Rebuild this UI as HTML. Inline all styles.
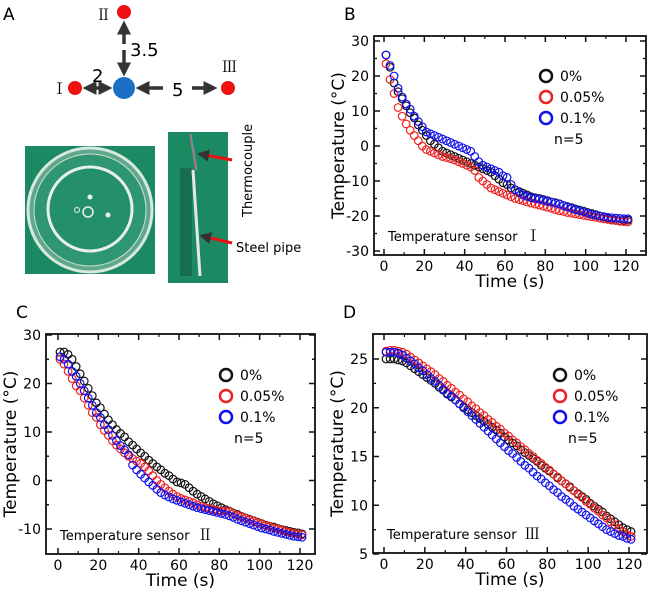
<!DOCTYPE html>
<html><head><meta charset="utf-8"><style>
html,body{margin:0;padding:0;background:#fff;}
svg{display:block;font-family:"DejaVu Sans","Liberation Sans",sans-serif;}
.rn{font-family:"Noto Serif CJK SC","Noto Sans CJK JP","WenQuanYi Zen Hei",serif;}
</style></head><body>
<svg id="fig" width="650" height="592" viewBox="0 0 650 592" xmlns="http://www.w3.org/2000/svg">
<defs>
<marker id="ah" markerWidth="4" markerHeight="4" refX="3" refY="2" orient="auto-start-reverse"><path d="M0,0 L4,2 L0,4 z" fill="#333"/></marker>
</defs>
<g>
<text x="3" y="20" font-size="17">A</text>
<line x1="124" y1="24" x2="124" y2="44" stroke="#333" stroke-width="3.5" marker-start="url(#ah)"/>
<line x1="124" y1="50" x2="124" y2="73" stroke="#333" stroke-width="3.5" marker-end="url(#ah)"/>
<line x1="86" y1="88" x2="109" y2="88" stroke="#333" stroke-width="3.5" marker-start="url(#ah)" marker-end="url(#ah)"/>
<line x1="139" y1="88" x2="163" y2="88" stroke="#333" stroke-width="3.5" marker-start="url(#ah)"/>
<line x1="192" y1="88" x2="214" y2="88" stroke="#333" stroke-width="3.5" marker-end="url(#ah)"/>
<circle cx="124" cy="12" r="7" fill="#ee1111"/>
<circle cx="75" cy="88" r="7" fill="#ee1111"/>
<circle cx="228" cy="88" r="7" fill="#ee1111"/>
<circle cx="124" cy="88" r="11" fill="#1a6fc4"/>
<text class="rn" x="96" y="20" font-size="15">Ⅱ</text>
<text class="rn" x="52" y="94" font-size="15">Ⅰ</text>
<text class="rn" x="222" y="72" font-size="15">Ⅲ</text>
<text x="130" y="56" font-size="18">3.5</text>
<text x="92" y="82" font-size="18">2</text>
<text x="172" y="96" font-size="18">5</text>
<g>
<rect x="25" y="146" width="130" height="128" fill="#1b8a62"/>
<circle cx="90" cy="210" r="62" fill="#5fa88c" stroke="#d8e8e0" stroke-width="3"/>
<circle cx="90" cy="210" r="56" fill="#2f9672" stroke="#cfe0d8" stroke-width="1"/>
<circle cx="90" cy="209" r="42" fill="#23906a" stroke="#e8f0ec" stroke-width="3"/>
<circle cx="88" cy="212" r="5" fill="none" stroke="#e8f0ec" stroke-width="1.5"/>
<circle cx="77" cy="210" r="2.5" fill="none" stroke="#e8f0ec" stroke-width="1"/>
<circle cx="90" cy="197" r="2.5" fill="#e8f0ec"/>
<circle cx="108" cy="215" r="2.5" fill="#e8f0ec"/>
</g>
<g>
<rect x="168" y="132" width="60" height="151" fill="#1b8a62"/>
<rect x="180" y="168" width="12" height="108" fill="#176e4e"/>
<line x1="190" y1="134" x2="196" y2="170" stroke="#c66" stroke-width="1.5"/>
<line x1="191" y1="134" x2="197" y2="170" stroke="#69c" stroke-width="1"/>
<line x1="193" y1="170" x2="200" y2="276" stroke="#e6e6e6" stroke-width="3"/>
<line x1="232" y1="160" x2="200" y2="154" stroke="#ee1111" stroke-width="3" marker-end="url(#ah)"/>
<line x1="232" y1="243" x2="202" y2="236" stroke="#ee1111" stroke-width="3" marker-end="url(#ah)"/>
</g>
<text transform="translate(252,217) rotate(-90)" font-size="13">Thermocouple</text>
<text x="236" y="252" font-size="13">Steel pipe</text>
</g>
<g id="charts"></g>
</svg>
<script>
const times = [];
for (let t = 1; t <= 121; t += 2) times.push(t);
const seriesNames = ["0%", "0.05%", "0.1%"];
const seriesColors = ["#111", "#ee2222", "#1010ee"];

const bBlack = [26,22.5,18,15.5,13.5,11.5,9.5,8,6,4.5,3,1.5,0.5,-0.5,-1.5,-2,-2.5,-3,-3.5,-4,-4.5,-5,-5.5,-6,-6.5,-7,-7.5,-8.5,-9.5,-10.5,-11,-12,-12.5,-13,-13.5,-14,-14.5,-14.8,-15,-15.3,-15.6,-16,-16.2,-16.5,-17,-17.3,-17.6,-18,-18.3,-18.6,-19,-19.3,-19.6,-20,-20.3,-20.6,-21,-21.2,-21.4,-21.3,-21.2];
const bRed = [23.5,19,15,11,8.5,6.3,4.5,3,1.5,0,-1,-1.5,-2,-2.5,-3,-3.3,-3.6,-4,-4.5,-5,-5.5,-6,-7,-9,-10,-11,-12,-12.5,-13,-13.5,-14,-14.5,-15,-15.3,-15.6,-16,-16.3,-16.6,-16.9,-17.2,-17.5,-17.8,-18.2,-18.5,-18.7,-19,-19.2,-19.4,-19.6,-19.8,-20,-20.2,-20.4,-20.6,-20.8,-21,-21.2,-21.3,-21.5,-21.6,-21.7];
const bBlue = [26,23,20,16.5,14,12,10.5,8.5,7,5.5,4,3.5,3,2.5,2,1.5,1,0.5,0,-0.5,-1,-1.5,-3,-4.5,-5.5,-6,-6.5,-7,-7.5,-8.5,-9,-11,-12.5,-13.3,-14,-14.4,-14.8,-15,-15.2,-15.5,-15.8,-16,-16.3,-16.6,-17,-17.4,-17.8,-18.2,-18.5,-18.8,-19.2,-19.5,-19.8,-20,-20.2,-20.4,-20.5,-20.6,-20.7,-20.8,-20.8];

const cBlack = [26.5,26.5,26,25,23.5,22,20.5,19,17.5,16,15,13.7,12.5,11.5,10.5,9.7,9,8,7.3,6.5,5.7,5,4.2,3.5,2.8,2.2,1.5,1,0.3,-0.3,-0.5,-0.8,-1.5,-2.2,-2.8,-3.3,-3.8,-4.3,-4.8,-5.2,-5.6,-6,-6.3,-6.7,-7,-7.4,-7.7,-8,-8.3,-8.6,-8.9,-9.2,-9.4,-9.6,-9.9,-10.1,-10.3,-10.5,-10.7,-10.8,-11];
const cRed = [25,24,22.5,21,19.5,18.5,17,15.5,14,13,11.5,10.3,9.3,8.2,7.3,6.5,5.7,5,4.5,4,3.5,2.8,2,1,0,-0.8,-1.5,-2.2,-2.8,-3.3,-3.7,-4,-4.3,-4.6,-5,-5.3,-5.6,-5.8,-6,-6.2,-6.3,-6.3,-6.4,-6.8,-7.2,-7.5,-7.8,-8.1,-8.4,-8.7,-9,-9.3,-9.5,-9.8,-10,-10.2,-10.5,-10.7,-10.9,-11,-11.2];
const cBlue = [25.5,25,24,22.5,21.5,20,18.5,17,15.5,14,13,11.5,10.5,9.3,8.2,7.2,6.3,5.3,3.2,2.2,1.3,0.5,-0.3,-1,-1.8,-2.5,-3,-3.4,-3.8,-4.1,-4.4,-4.7,-5,-5.3,-5.6,-5.8,-6,-6.2,-6.4,-6.6,-6.8,-7,-7.3,-7.6,-8,-8.3,-8.6,-8.9,-9.2,-9.5,-9.8,-10,-10.2,-10.5,-10.7,-10.9,-11.1,-11.3,-11.5,-11.6,-11.7];

const dBlack = [25,25,25,24.9,24.8,24.6,24.3,24,23.7,23.4,23.1,22.8,22.5,22.1,21.8,21.4,21.1,20.8,20.4,20.1,19.8,19.5,19.2,18.9,18.6,18.3,18,17.7,17.4,17,16.7,16.4,16.1,15.7,15.4,15.1,14.8,14.5,14.1,13.8,13.5,13.2,12.8,12.5,12.2,11.9,11.5,11.2,10.9,10.6,10.2,9.9,9.6,9.3,8.9,8.6,8.3,8,7.7,7.5,7.3];
const dRed = [25.8,25.9,25.9,25.8,25.7,25.5,25.2,24.9,24.6,24.3,24,23.7,23.4,23,22.7,22.3,22,21.6,21.3,20.9,20.6,20.2,19.9,19.5,19.2,18.8,18.5,18.1,17.8,17.4,17.1,16.7,16.4,16,15.7,15.3,15,14.6,14.3,13.9,13.6,13.2,12.9,12.5,12.2,11.8,11.5,11.1,10.8,10.4,10.1,9.7,9.4,9,8.7,8.3,8,7.6,7.3,7,6.8];
const dBlue = [25.7,25.7,25.7,25.6,25.4,25.1,24.8,24.5,24.1,23.8,23.4,23,22.7,22.3,21.9,21.5,21.2,20.8,20.4,20,19.6,19.2,18.8,18.4,18,17.6,17.2,16.8,16.4,16,15.6,15.3,14.9,14.5,14.1,13.8,13.4,13,12.7,12.3,12,11.6,11.3,10.9,10.6,10.3,9.9,9.6,9.3,9,8.7,8.4,8.1,7.8,7.5,7.3,7.1,6.9,6.8,6.6,6.5];

const xTicks = [0,20,40,60,80,100,120];
const bYTicks = [30,20,10,0,-10,-20,-30];
const cYTicks = [30,20,10,0,-10];
const dYTicks = [25,20,15,10,5];

const NS = "http://www.w3.org/2000/svg";
const root = document.getElementById("charts");
function mk(tag, attrs, parent) {
  const e = document.createElementNS(NS, tag);
  for (const k in attrs) e.setAttribute(k, attrs[k]);
  parent.appendChild(e);
  return e;
}

function drawPanel(p) {
  const g = mk("g", {}, root);
  
  
  const xs = v => p.x0 + (v - 0) * (p.x120 - p.x0) / 120;
  const ys = v => p.yA + (v - p.vA) * (p.yB - p.yA) / (p.vB - p.vA);
  const lab = mk("text", {x: p.L - 30, y: p.T - 16, "font-size": 17}, g);
  lab.textContent = p.id.toUpperCase();
  
  
  p.series.forEach((vals, si) => {
    const sg = mk("g", {fill: "none", stroke: seriesColors[si], "stroke-width": 1.2}, g);
    
    
    vals.forEach((v, i) => {
      const c = mk("circle", {cx: xs(times[i]), cy: ys(v), r: 3.8}, sg);
      
      
    });
  });
  const fr = mk("rect", {x: p.L, y: p.T, width: p.R - p.L, height: p.B - p.T, fill: "none", stroke: "#111", "stroke-width": 1.8}, g);
  
  
  xTicks.forEach(v => {
    const x = xs(v);
    mk("line", {x1: x, y1: p.B, x2: x, y2: p.B - 6, stroke: "#111", "stroke-width": 1.5}, g);
    mk("line", {x1: x, y1: p.T, x2: x, y2: p.T + 6, stroke: "#111", "stroke-width": 1.5}, g);
    if (v < 120) {
      const xm = xs(v + 10);
      mk("line", {x1: xm, y1: p.B, x2: xm, y2: p.B - 3, stroke: "#111", "stroke-width": 1.2}, g);
      mk("line", {x1: xm, y1: p.T, x2: xm, y2: p.T + 3, stroke: "#111", "stroke-width": 1.2}, g);
    }
    const t = mk("text", {x: x, y: p.B + 16, "font-size": 14, "text-anchor": "middle"}, g);
    t.textContent = v;
    
    
  });
  const step = p.yTicks[0] - p.yTicks[1];
  p.yTicks.forEach((v, i) => {
    const y = ys(v);
    mk("line", {x1: p.L, y1: y, x2: p.L + 6, y2: y, stroke: "#111", "stroke-width": 1.5}, g);
    mk("line", {x1: p.R, y1: y, x2: p.R - 6, y2: y, stroke: "#111", "stroke-width": 1.5}, g);
    [v + step / 2, v - step / 2].forEach(m => {
      const ym = ys(m);
      if (ym > p.T + 1 && ym < p.B - 1) {
        mk("line", {x1: p.L, y1: ym, x2: p.L + 3, y2: ym, stroke: "#111", "stroke-width": 1.2}, g);
        mk("line", {x1: p.R, y1: ym, x2: p.R - 3, y2: ym, stroke: "#111", "stroke-width": 1.2}, g);
      }
    });
    const t = mk("text", {x: p.L - 5, y: y + 5, "font-size": 14, "text-anchor": "end"}, g);
    t.textContent = v;
    
    
  });
  const xt = mk("text", {x: (p.L + p.R) / 2, y: p.B + 32, "font-size": 17, "text-anchor": "middle"}, g);
  xt.textContent = "Time (s)";
  
  
  const yt = mk("text", {transform: "translate(" + (p.L - 30) + "," + ((p.T + p.B) / 2) + ") rotate(-90)", "font-size": 17, "text-anchor": "middle"}, g);
  yt.textContent = "Temperature (°C)";
  
  
  seriesNames.forEach((n, i) => {
    const ly = p.legY + i * 21;
    const c = mk("circle", {cx: p.legX, cy: ly, r: 6, fill: "none", stroke: seriesColors[i], "stroke-width": 2.5}, g);
    
    
    const t = mk("text", {x: p.legX + 14, y: ly + 5, "font-size": 14}, g);
    t.textContent = n;
    
    
  });
  const nt = mk("text", {x: p.legX + 8, y: p.legY + 68, "font-size": 14}, g);
  nt.textContent = "n=5";
  
  
  const st = mk("text", {x: p.L + 14, y: p.B - 14, "font-size": 13}, g);
  st.textContent = "Temperature sensor ";
  
  
  const rn = mk("tspan", {"class": "rn", "font-size": 15, dx: 4}, st);
  rn.textContent = p.sensor;
}

drawPanel({id: "b", L: 374, R: 646, T: 36, B: 255, x0: 384, x120: 626, vA: 30, yA: 41, vB: -30, yB: 251,
  yTicks: bYTicks, series: [bBlack, bRed, bBlue], legX: 546, legY: 76, sensor: "Ⅰ"});
drawPanel({id: "c", L: 46, R: 315, T: 334, B: 554, x0: 58, x120: 300, vA: 30, yA: 335, vB: -10, yB: 529,
  yTicks: cYTicks, series: [cBlack, cRed, cBlue], legX: 226, legY: 375, sensor: "Ⅱ"});
drawPanel({id: "d", L: 373, R: 647, T: 334, B: 553, x0: 384, x120: 629, vA: 25, yA: 359, vB: 5, yB: 554,
  yTicks: dYTicks, series: [dBlack, dRed, dBlue], legX: 560, legY: 375, sensor: "Ⅲ"});
</script>
</body></html>
